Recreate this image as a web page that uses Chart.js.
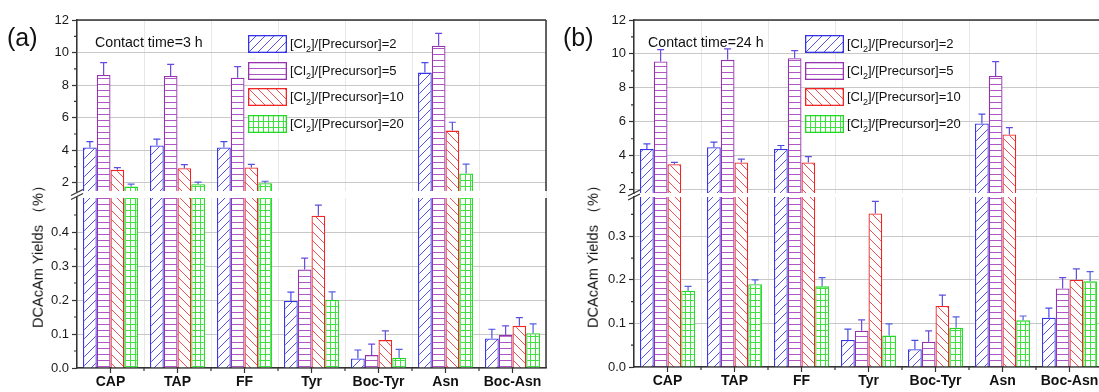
<!DOCTYPE html>
<html><head><meta charset="utf-8">
<script src="https://cdn.jsdelivr.net/npm/chart.js@4"></script>
<style>
html,body{margin:0;padding:0;background:#fff;overflow:hidden;width:1099px;height:392px;position:relative;font-family:"Liberation Sans",Arial,sans-serif;color:#111;}
.panel{position:absolute;top:0;height:392px;}
.abs{position:absolute;white-space:nowrap;color:#111;line-height:1;}
.tag{font-size:25px;}
.note{font-size:14.2px;}
.ytitle{font-size:14.6px;transform:translate(-50%,-50%) rotate(-90deg);}
.leg{position:absolute;font-size:13px;white-space:nowrap;line-height:18px;}
.leg canvas{position:absolute;left:0;top:0;}
.leg span{position:absolute;left:42px;top:0;}
.leg sub{font-size:9px;vertical-align:-4px;line-height:0;}
</style></head><body>
<div class="panel" style="left:0;width:550px;"><canvas id="ca" width="550" height="392"></canvas></div>
<div class="panel" style="left:550px;width:560px;"><canvas id="cb" width="560" height="392"></canvas></div>

<div class="abs tag" style="left:7px;top:25px;">(a)</div>
<div class="abs tag" style="left:563px;top:25px;">(b)</div>
<div class="abs note" style="left:95px;top:35px;">Contact time=3 h</div>
<div class="abs note" style="left:648px;top:35px;">Contact time=24 h</div>
<div class="abs ytitle" style="left:38px;top:253px;">DCAcAm Yields （%）</div>
<div class="abs ytitle" style="left:593px;top:253px;">DCAcAm Yields （%）</div>
<div id="legA"></div>
<div id="legB"></div>

<script>
// ---------------- data ----------------
const categories = ['CAP','TAP','FF','Tyr','Boc-Tyr','Asn','Boc-Asn'];
const legendRatios = ['2','5','10','20'];
// Panel (a): contact time 3 h
const a_r2  = [4.17, 4.29, 4.17, 0.197, 0.028, 8.77, 0.087];
const a_r5  = [8.63, 8.56, 8.46, 0.290, 0.038, 10.42, 0.097];
const a_r10 = [2.80, 2.90, 2.94, 0.448, 0.082, 5.21, 0.124];
const a_r20 = [1.77, 1.92, 1.98, 0.200, 0.030, 2.57, 0.102];
const a_e2  = [0.36, 0.39, 0.36, 0.026, 0.025, 0.61, 0.027];
const a_e5  = [0.75, 0.72, 0.68, 0.033, 0.032, 0.76, 0.027];
const a_e10 = [0.14, 0.22, 0.20, 0.031, 0.027, 0.51, 0.024];
const a_e20 = [0.15, 0.12, 0.12, 0.024, 0.025, 0.58, 0.028];
// Panel (b): contact time 24 h
const b_r2  = [4.40, 4.50, 4.40, 0.062, 0.041, 5.90, 0.113];
const b_r5  = [9.55, 9.65, 9.75, 0.083, 0.058, 8.70, 0.180];
const b_r10 = [3.50, 3.60, 3.60, 0.352, 0.140, 5.25, 0.200];
const b_r20 = [0.175, 0.190, 0.185, 0.072, 0.090, 0.107, 0.197];
const b_e2  = [0.30, 0.30, 0.20, 0.025, 0.020, 0.55, 0.022];
const b_e5  = [0.70, 0.65, 0.45, 0.025, 0.025, 0.85, 0.025];
const b_e10 = [0.10, 0.20, 0.35, 0.028, 0.025, 0.40, 0.025];
const b_e20 = [0.010, 0.010, 0.020, 0.027, 0.025, 0.010, 0.022];
// axis ticks
const upperTicks = [2, 4, 6, 8, 10, 12];
const lowerTicksA = [0, 0.1, 0.2, 0.3, 0.4];
const lowerTicksB = [0, 0.1, 0.2, 0.3];

// ---------------- styles ----------------
const STYLES = [
  {kind:'fwd',   line:'#5050ec', border:'#3434e6', err:'#4a4ae6'},
  {kind:'horiz', line:'#b056c4', border:'#9532ae', err:'#6a4ade'},
  {kind:'back',  line:'#f05050', border:'#f02626', err:'#5a50dc'},
  {kind:'grid',  line:'#3ee23e', border:'#22d822', err:'#5560dc'}
];
function tile(kind, color){
  const c=document.createElement('canvas');
  let w=9,h=9;
  if(kind==='horiz'){w=6;h=6;}
  if(kind==='grid'){w=5;h=6;}
  c.width=w;c.height=h;
  const x=c.getContext('2d');
  x.fillStyle='#fff';x.fillRect(0,0,w,h);
  x.strokeStyle=color;x.lineWidth=1;
  x.beginPath();
  if(kind==='fwd'){x.moveTo(-1,h+1);x.lineTo(w+1,-1);x.moveTo(-2,1);x.lineTo(1,-2);x.moveTo(w-1,h+2);x.lineTo(w+2,h-1);}
  if(kind==='back'){x.moveTo(-1,-1);x.lineTo(w+1,h+1);x.moveTo(w-1,-2);x.lineTo(w+2,1);x.moveTo(-2,h-1);x.lineTo(1,h+2);}
  if(kind==='horiz'){x.moveTo(0,0.5);x.lineTo(w,0.5);}
  if(kind==='grid'){x.moveTo(0,0.5);x.lineTo(w,0.5);x.moveTo(0.5,0);x.lineTo(0.5,h);}
  x.stroke();
  return c;
}
function pattern(ctx, i){ return ctx.createPattern(tile(STYLES[i].kind, STYLES[i].line),'repeat'); }

// ---------------- plugin ----------------
const decor = {
  id:'decor',
  beforeDatasetsDraw(chart, args, P){
    const {ctx, chartArea:a} = chart; const g = chart.scales.yG;
    ctx.save(); ctx.fillStyle='#fff';
    ctx.fillRect(a.left+1, g.top, a.right-a.left-2, g.bottom-g.top);
    ctx.restore();
  },
  afterDatasetsDraw(chart, args, P){
    const ctx=chart.ctx;
    chart.data.datasets.forEach((ds,di)=>{
      const meta=chart.getDatasetMeta(di);
      const sc=chart.scales[ds.yAxisID];
      meta.data.forEach((el,j)=>{
        const v=ds.realData[j], e=ds.err[j];
        const show = ds.section==='U' ? v>P.upperMin : v<=P.lowerMax;
        if(!show) return;
        const yb=sc.getPixelForValue(v), yt=sc.getPixelForValue(v+e);
        ctx.save(); ctx.strokeStyle=ds.errColor; ctx.lineWidth=1.2;
        ctx.beginPath(); ctx.moveTo(el.x,yb); ctx.lineTo(el.x,yt);
        ctx.moveTo(el.x-3.5,yt); ctx.lineTo(el.x+3.5,yt); ctx.stroke(); ctx.restore();
      });
    });
  },
  afterDraw(chart, args, P){
    const {ctx, chartArea:a, scales} = chart;
    const U=scales.yU, L=scales.yL, X=scales.x;
    ctx.save(); ctx.strokeStyle='#333'; ctx.lineWidth=1.5;
    ctx.beginPath();
    ctx.moveTo(a.left, a.top); ctx.lineTo(a.right, a.top);
    ctx.moveTo(a.right, a.top); ctx.lineTo(a.right, U.bottom);
    ctx.moveTo(a.right, L.top); ctx.lineTo(a.right, a.bottom);
    ctx.stroke();
    ctx.lineWidth=1.2; ctx.beginPath();
    for(let v=3; v<12; v+=2){ const y=U.getPixelForValue(v); ctx.moveTo(a.left,y); ctx.lineTo(a.left-3,y); }
    for(let v=0.05; v<P.lowerMax; v+=0.1){ const y=L.getPixelForValue(v); ctx.moveTo(a.left,y); ctx.lineTo(a.left-3,y); }
    const n=categories.length, w=(a.right-a.left)/n;
    for(let i=0;i<n;i++){ const x=X.getPixelForValue(i); ctx.moveTo(x,a.bottom); ctx.lineTo(x,a.bottom+5); }
    for(let i=1;i<n;i++){ const x=a.left+i*w; ctx.moveTo(x,a.bottom); ctx.lineTo(x,a.bottom+3); }
    ctx.stroke();
    const gy=(U.bottom+L.top)/2;
    ctx.lineWidth=1.2; ctx.beginPath();
    ctx.moveTo(a.left-6, gy+1); ctx.lineTo(a.left+6, gy-5);
    ctx.moveTo(a.left-6, gy+5); ctx.lineTo(a.left+6, gy-1);
    ctx.stroke();
    ctx.restore();
  }
};

const FONT = 'Liberation Sans, Arial, sans-serif';
function build(id, vals, errs, P){
  const cv=document.getElementById(id); const c2=cv.getContext('2d');
  const datasets=[];
  vals.forEach((arr,i)=>{
    const st=STYLES[i]; const pat=pattern(c2,i);
    datasets.push({label:'r'+legendRatios[i]+'U', yAxisID:'yU', stack:'s'+i, base:P.upperMin,
      data:arr.map(v=> v>P.upperMin ? v : null), realData:arr, err:errs[i], section:'U', errColor:st.err,
      backgroundColor:pat, borderColor:st.border, borderSkipped:false,
      borderWidth:{top:1.3,left:1.3,right:1.3,bottom:0}, categoryPercentage:0.82, barPercentage:1});
    datasets.push({label:'r'+legendRatios[i]+'L', yAxisID:'yL', stack:'s'+i,
      data:arr.map(v=> Math.min(v, P.lowerMax)), realData:arr, err:errs[i], section:'L', errColor:st.err,
      backgroundColor:pat, borderColor:st.border, borderSkipped:false,
      borderWidth:(ctx)=> arr[ctx.dataIndex] > P.lowerMax ? {top:0,left:1.3,right:1.3,bottom:0} : {top:1.3,left:1.3,right:1.3,bottom:0},
      categoryPercentage:0.82, barPercentage:1});
  });
  const tickFont={family:FONT,size:13};
  const yCommon = {position:'left', stack:'v', stacked:false,
    grid:{color:'#c8c8c8', lineWidth:1, tickLength:5, tickColor:'#333', tickWidth:1.2},
    border:{display:true,color:'#333',width:1.5},
    ticks:{font:tickFont,color:'#1a1a1a',padding:3,autoSkip:false},
    afterFit:(s)=>{s.width=P.yW;}};
  return new Chart(cv,{
    type:'bar',
    data:{labels:categories, datasets},
    options:{
      responsive:false, animation:false, devicePixelRatio:1,
      layout:{padding:{left:0,top:P.top,right:P.right,bottom:0}},
      plugins:{legend:{display:false}, tooltip:{enabled:false}, decor:P},
      scales:{
        x:{type:'category', offset:true,
          grid:{offset:true,color:'#e8e8e8',drawTicks:false},
          border:{display:true,color:'#333',width:1.5},
          ticks:{font:{family:FONT,size:14,weight:'bold'},color:'#111',padding:6,maxRotation:0,autoSkip:false},
          afterFit:(s)=>{s.height=P.xH;}},
        yL:Object.assign({}, yCommon, {stackWeight:P.wL, min:0, max:P.lowerMax,
          afterBuildTicks:(s)=>{s.ticks=P.lowerTicks.map(v=>({value:v}));},
          ticks:Object.assign({}, yCommon.ticks, {callback:(v)=>Number(v).toFixed(1)})}),
        yG:{position:'left', stack:'v', stackWeight:P.wG, min:0, max:1, display:true,
          ticks:{display:false}, grid:{display:false, drawTicks:false}, border:{display:false},
          afterFit:(s)=>{s.width=P.yW;}},
        yU:Object.assign({}, yCommon, {stackWeight:P.wU, min:P.upperMin, max:12,
          afterBuildTicks:(s)=>{s.ticks=upperTicks.map(v=>({value:v}));},
          ticks:Object.assign({}, yCommon.ticks, {callback:(v)=>String(v)})})
      }
    },
    plugins:[decor]
  });
}

build('ca',[a_r2,a_r5,a_r10,a_r20],[a_e2,a_e5,a_e10,a_e20],
  {upperMin:1.5, lowerMax:0.5, lowerTicks:lowerTicksA, yW:77, top:20, right:4, xH:24, wU:171, wG:7, wL:170});
build('cb',[b_r2,b_r5,b_r10,b_r20],[b_e2,b_e5,b_e10,b_e20],
  {upperMin:1.8, lowerMax:0.39, lowerTicks:lowerTicksB, yW:84, top:20, right:7, xH:25, wU:173, wG:4, wL:170});

// ---------------- legends (HTML) ----------------
function legend(el, left, top){
  const box=document.getElementById(el);
  legendRatios.forEach((r,i)=>{
    const row=document.createElement('div'); row.className='leg';
    row.style.left=left+'px'; row.style.top=(top+i*26.7)+'px';
    const sw=document.createElement('canvas'); sw.width=39; sw.height=18;
    const x=sw.getContext('2d');
    x.fillStyle=x.createPattern(tile(STYLES[i].kind,STYLES[i].line),'repeat'); x.fillRect(0,0,39,18);
    x.strokeStyle=STYLES[i].border; x.lineWidth=1.3; x.strokeRect(0.65,0.65,37.7,16.7);
    const sp=document.createElement('span'); sp.innerHTML='[Cl<sub>2</sub>]/[Precursor]='+r;
    row.appendChild(sw); row.appendChild(sp); box.appendChild(row);
  });
}
legend('legA', 248, 35);
legend('legB', 805, 35);
</script>
</body></html>
